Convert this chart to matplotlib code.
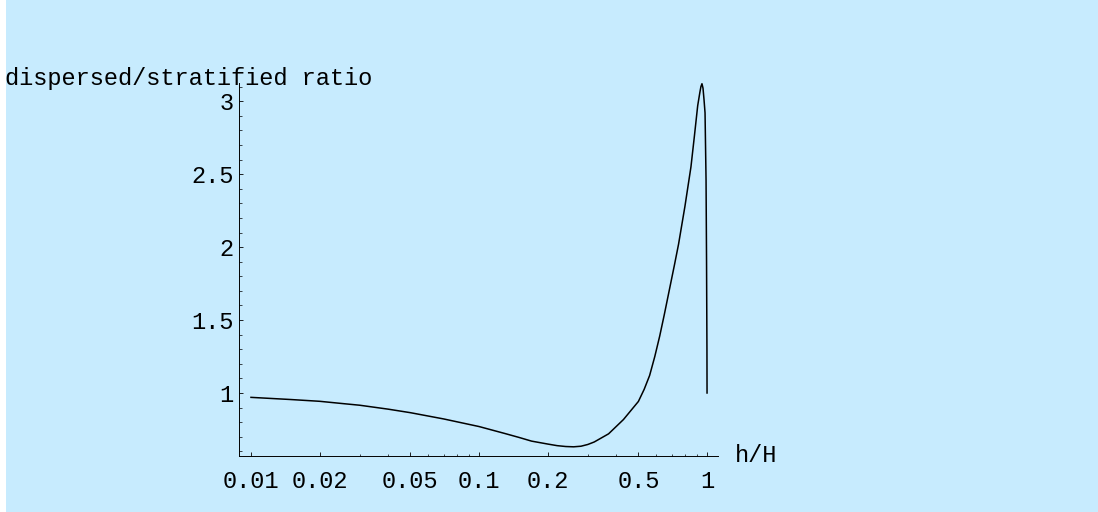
import matplotlib
matplotlib.use('Agg')
import matplotlib.pyplot as plt
from matplotlib.patches import Rectangle
from matplotlib.ticker import FixedLocator, FixedFormatter, NullFormatter

# ratio of dispersed to stratified, as a function of h/H
h_ratio = [0.01, 0.015, 0.02, 0.025, 0.03, 0.04, 0.05, 0.07, 0.1, 0.13, 0.15, 0.17,
           0.2, 0.22, 0.24, 0.26, 0.28, 0.3, 0.32, 0.37, 0.43, 0.5, 0.53, 0.56,
           0.59, 0.62, 0.65, 0.68, 0.72, 0.75, 0.8, 0.85, 0.88, 0.91, 0.93,
           0.94, 0.95, 0.96, 0.97, 0.98, 0.99, 0.995, 0.999, 1.0]
ratio = [0.97, 0.955, 0.943, 0.928, 0.916, 0.889, 0.865, 0.822, 0.77, 0.722, 0.695, 0.67,
         0.65, 0.639, 0.633, 0.631, 0.635, 0.647, 0.664, 0.72, 0.818, 0.942, 1.025, 1.12,
         1.25, 1.39, 1.54, 1.69, 1.88, 2.02, 2.28, 2.55, 2.76, 2.97, 3.06,
         3.1, 3.12, 3.09, 3.01, 2.92, 2.46, 1.9, 1.3, 1.0]

x_major = [0.01, 0.02, 0.05, 0.1, 0.2, 0.5, 1]
x_major_labels = ['0.01', '0.02', '0.05', '0.1', '0.2', '0.5', '1']
x_minor = [0.03, 0.04, 0.06, 0.07, 0.08, 0.09, 0.3, 0.4, 0.6, 0.7, 0.8, 0.9]
y_major = [1, 1.5, 2, 2.5, 3]
y_major_labels = ['1', '1.5', '2', '2.5', '3']
y_minor = [0.6, 0.7, 0.8, 0.9, 1.1, 1.2, 1.3, 1.4, 1.6, 1.7, 1.8, 1.9,
           2.1, 2.2, 2.3, 2.4, 2.6, 2.7, 2.8, 2.9, 3.1]

bg = '#c7ebfe'
font = 'Liberation Mono'
fs = 17

fig = plt.figure(figsize=(10.98, 5.12), dpi=100, facecolor=bg)
fig.patches.append(Rectangle((0, 0), 6 / 1098, 1, transform=fig.transFigure,
                             facecolor='white', edgecolor='none'))
ax = fig.add_axes([239 / 1098, 56 / 512, 479 / 1098, 373 / 512])
ax.patch.set_visible(False)

ax.plot(h_ratio, ratio, color='black', lw=1.1, clip_on=False)

ax.set_xscale('log')
ax.set_xlim(0.00886, 1.117)
ax.set_ylim(0.568, 3.125)

for side in ('top', 'right'):
    ax.spines[side].set_visible(False)
for side in ('left', 'bottom'):
    ax.spines[side].set_linewidth(0.7)

ax.xaxis.set_major_locator(FixedLocator(x_major))
ax.xaxis.set_major_formatter(FixedFormatter(x_major_labels))
ax.xaxis.set_minor_locator(FixedLocator(x_minor))
ax.xaxis.set_minor_formatter(NullFormatter())
ax.yaxis.set_major_locator(FixedLocator(y_major))
ax.yaxis.set_major_formatter(FixedFormatter(y_major_labels))
ax.yaxis.set_minor_locator(FixedLocator(y_minor))

ax.tick_params(which='major', direction='in', length=3.2, width=0.6)
ax.tick_params(which='minor', direction='in', length=1.8, width=0.5)
ax.tick_params(axis='x', which='major', pad=10)
ax.tick_params(axis='y', which='major', pad=4)
for lab in ax.get_xticklabels() + ax.get_yticklabels():
    lab.set_fontfamily(font)
    lab.set_fontsize(fs)

fig.text(5 / 1098, 1 - 78 / 512, 'dispersed/stratified ratio', family=font,
         fontsize=fs, ha='left', va='center')
fig.text(735 / 1098, 1 - 455 / 512, 'h/H', family=font, fontsize=fs,
         ha='left', va='center')

fig.savefig('out.png', dpi=100, facecolor=bg)
